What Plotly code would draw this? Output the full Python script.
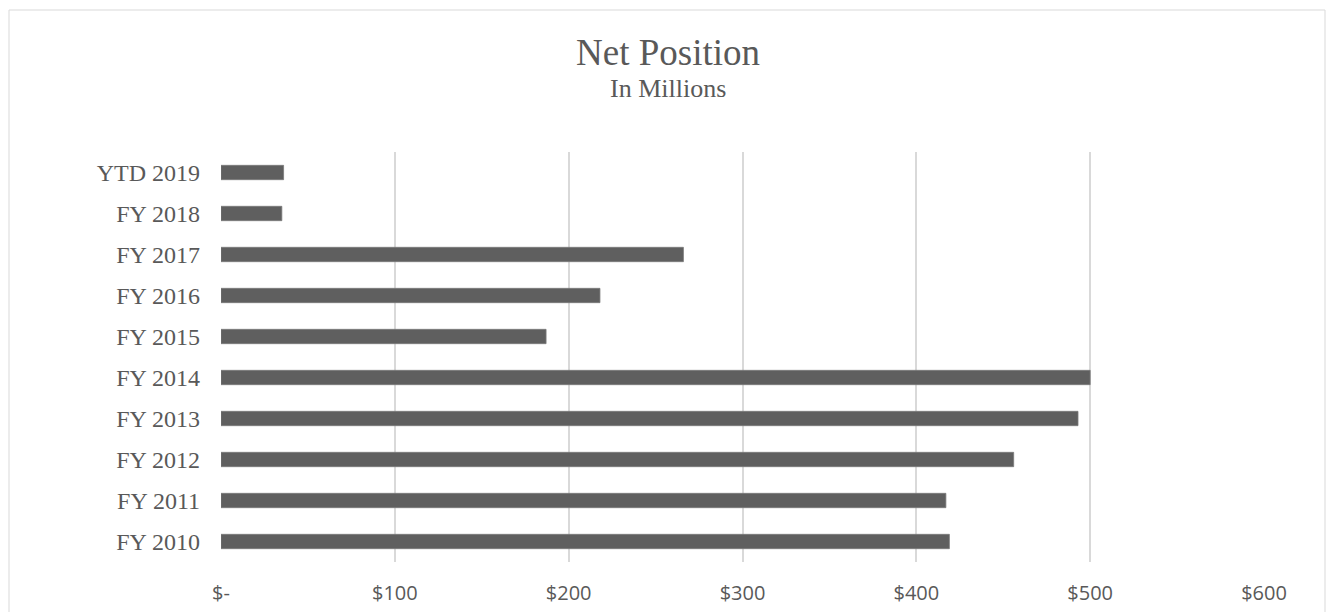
import plotly.graph_objects as go

categories = ["FY 2010", "FY 2011", "FY 2012", "FY 2013", "FY 2014",
              "FY 2015", "FY 2016", "FY 2017", "FY 2018", "YTD 2019"]
values = [419, 417, 456, 493, 500, 187, 218, 266, 35, 36]
tick_vals = [0, 100, 200, 300, 400, 500, 600]
tick_text = ["$-", "$100", "$200", "$300", "$400", "$500", "$600"]

W, H = 1326, 612
L, R, T, B = 221, 62, 152, 50
pw = W - L - R
ph = H - T - B

def px_x(p):
    return (p - L) / pw

def px_y(p):
    return (H - B - p) / ph

fig = go.Figure()
fig.add_trace(go.Bar(
    y=categories, x=values, orientation="h",
    marker=dict(color="#5f5f5f", line=dict(color="#7a7a7a", width=0.8)),
    width=0.35,
))

fig.update_layout(
    width=W, height=H,
    margin=dict(l=L, r=R, t=T, b=B, autoexpand=False),
    paper_bgcolor="white", plot_bgcolor="white",
    showlegend=False,
    xaxis=dict(range=[0, 600], tickvals=tick_vals, ticktext=tick_text,
               automargin=False,
               showgrid=True, gridcolor="#d9d9d9", gridwidth=1.5,
               zeroline=False, showline=False, ticks="",
               tickfont=dict(family="Open Sans", size=20, color="#595959"),
               ticklabelstandoff=17),
    yaxis=dict(showgrid=False, zeroline=False, showline=False, ticks="",
               automargin=False,
               range=[-0.5, 9.5],
               tickfont=dict(family="Liberation Serif", size=24, color="#595959"),
               ticklabelstandoff=20),
    shapes=[dict(type="rect", xref="paper", yref="paper",
                 x0=px_x(9), x1=px_x(1325), y0=px_y(660), y1=px_y(10),
                 line=dict(color="#d9d9d9", width=1), fillcolor="rgba(0,0,0,0)",
                 layer="below")],
    annotations=[
        dict(text="Net Position", xref="paper", yref="paper",
             x=px_x(667.5), y=px_y(52), xanchor="center", yanchor="middle",
             showarrow=False,
             font=dict(family="Liberation Serif", size=37, color="#595959")),
        dict(text="In Millions", xref="paper", yref="paper",
             x=px_x(667.5), y=px_y(88), xanchor="center", yanchor="middle",
             showarrow=False,
             font=dict(family="Liberation Serif", size=26, color="#595959")),
    ],
)

fig.write_html("out.html", config={"displayModeBar": False},
               post_script="document.body.style.margin='0';document.body.style.overflow='hidden';")
